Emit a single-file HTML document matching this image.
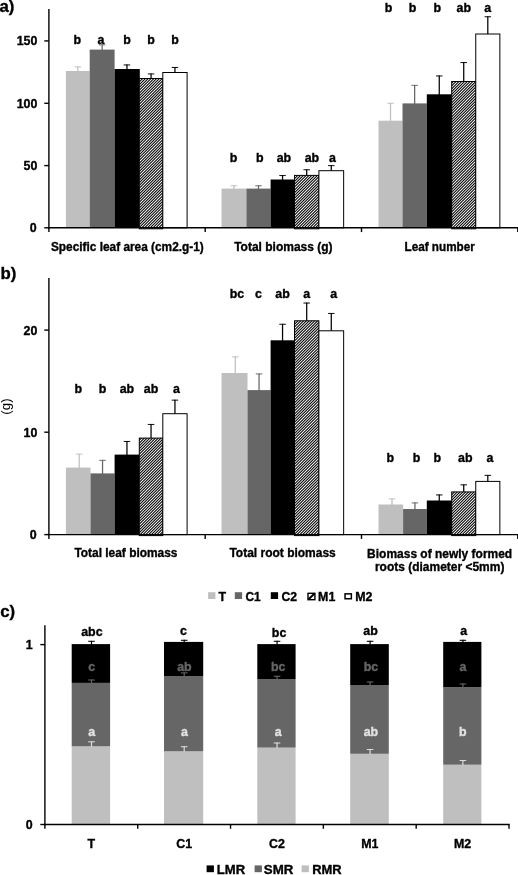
<!DOCTYPE html>
<html><head><meta charset="utf-8"><title>chart</title>
<style>
html,body{margin:0;padding:0;background:#fff;}
body{width:518px;height:875px;overflow:hidden;}
svg{display:block;will-change:transform;transform:translateZ(0);font-family:"Liberation Sans",sans-serif;font-weight:bold;}
</style></head><body>
<svg width="518" height="875" viewBox="0 0 518 875">
<rect width="518" height="875" fill="#fff"/>

<line x1="77.80" y1="72.00" x2="77.80" y2="66.50" stroke="#bfbfbf" stroke-width="1.25"/>
<line x1="74.55" y1="66.95" x2="81.05" y2="66.95" stroke="#bfbfbf" stroke-width="0.95"/>
<rect x="65.90" y="71.00" width="23.80" height="156.80" fill="#bfbfbf"/>
<text x="77.30" y="44.00" font-size="12.4" text-anchor="middle" fill="#000000"  stroke="#000000" stroke-width="0.35" stroke-linejoin="round">b</text>
<line x1="102.15" y1="50.60" x2="102.15" y2="44.40" stroke="#666666" stroke-width="1.25"/>
<line x1="98.90" y1="44.85" x2="105.40" y2="44.85" stroke="#666666" stroke-width="0.95"/>
<rect x="89.70" y="49.60" width="24.90" height="178.20" fill="#666666"/>
<text x="100.85" y="44.00" font-size="12.4" text-anchor="middle" fill="#000000"  stroke="#000000" stroke-width="0.35" stroke-linejoin="round">a</text>
<line x1="126.95" y1="70.00" x2="126.95" y2="64.50" stroke="#000000" stroke-width="1.25"/>
<line x1="123.70" y1="64.95" x2="130.20" y2="64.95" stroke="#000000" stroke-width="0.95"/>
<rect x="114.60" y="69.00" width="25.20" height="158.80" fill="#000000"/>
<text x="126.95" y="44.00" font-size="12.4" text-anchor="middle" fill="#000000"  stroke="#000000" stroke-width="0.35" stroke-linejoin="round">b</text>
<line x1="151.05" y1="79.00" x2="151.05" y2="73.50" stroke="#000000" stroke-width="1.25"/>
<line x1="147.80" y1="73.95" x2="154.30" y2="73.95" stroke="#000000" stroke-width="0.95"/>
<clipPath id="c1"><rect x="139.30" y="78.50" width="23.50" height="150.30"/></clipPath>
<rect x="139.30" y="78.50" width="23.50" height="150.30" fill="#fff"/>
<path d="M-15.20 230.80L139.10 76.50M-12.40 230.80L141.90 76.50M-9.60 230.80L144.70 76.50M-6.80 230.80L147.50 76.50M-4.00 230.80L150.30 76.50M-1.20 230.80L153.10 76.50M1.60 230.80L155.90 76.50M4.40 230.80L158.70 76.50M7.20 230.80L161.50 76.50M10.00 230.80L164.30 76.50M12.80 230.80L167.10 76.50M15.60 230.80L169.90 76.50M18.40 230.80L172.70 76.50M21.20 230.80L175.50 76.50M24.00 230.80L178.30 76.50M26.80 230.80L181.10 76.50M29.60 230.80L183.90 76.50M32.40 230.80L186.70 76.50M35.20 230.80L189.50 76.50M38.00 230.80L192.30 76.50M40.80 230.80L195.10 76.50M43.60 230.80L197.90 76.50M46.40 230.80L200.70 76.50M49.20 230.80L203.50 76.50M52.00 230.80L206.30 76.50M54.80 230.80L209.10 76.50M57.60 230.80L211.90 76.50M60.40 230.80L214.70 76.50M63.20 230.80L217.50 76.50M66.00 230.80L220.30 76.50M68.80 230.80L223.10 76.50M71.60 230.80L225.90 76.50M74.40 230.80L228.70 76.50M77.20 230.80L231.50 76.50M80.00 230.80L234.30 76.50M82.80 230.80L237.10 76.50M85.60 230.80L239.90 76.50M88.40 230.80L242.70 76.50M91.20 230.80L245.50 76.50M94.00 230.80L248.30 76.50M96.80 230.80L251.10 76.50M99.60 230.80L253.90 76.50M102.40 230.80L256.70 76.50M105.20 230.80L259.50 76.50M108.00 230.80L262.30 76.50M110.80 230.80L265.10 76.50M113.60 230.80L267.90 76.50M116.40 230.80L270.70 76.50M119.20 230.80L273.50 76.50M122.00 230.80L276.30 76.50M124.80 230.80L279.10 76.50M127.60 230.80L281.90 76.50M130.40 230.80L284.70 76.50M133.20 230.80L287.50 76.50M136.00 230.80L290.30 76.50M138.80 230.80L293.10 76.50M141.60 230.80L295.90 76.50M144.40 230.80L298.70 76.50M147.20 230.80L301.50 76.50M150.00 230.80L304.30 76.50M152.80 230.80L307.10 76.50M155.60 230.80L309.90 76.50M158.40 230.80L312.70 76.50M161.20 230.80L315.50 76.50" stroke="#000" stroke-width="1.05" fill="none" clip-path="url(#c1)"/>
<rect x="139.30" y="78.50" width="23.50" height="150.30" fill="none" stroke="#000" stroke-width="1.0"/>
<text x="151.05" y="44.00" font-size="12.4" text-anchor="middle" fill="#000000"  stroke="#000000" stroke-width="0.35" stroke-linejoin="round">b</text>
<line x1="174.95" y1="73.00" x2="174.95" y2="67.00" stroke="#000000" stroke-width="1.25"/>
<line x1="171.70" y1="67.45" x2="178.20" y2="67.45" stroke="#000000" stroke-width="0.95"/>
<rect x="162.80" y="72.50" width="24.30" height="155.30" fill="#fff" stroke="#000" stroke-width="1.0"/>
<text x="174.95" y="44.00" font-size="12.4" text-anchor="middle" fill="#000000"  stroke="#000000" stroke-width="0.35" stroke-linejoin="round">b</text>
<text transform="translate(127.35,251.10) scale(0.956,1)" font-size="12.4" text-anchor="middle" fill="#000000"  stroke="#000000" stroke-width="0.35" stroke-linejoin="round">Specific leaf area (cm2.g-1)</text>
<line x1="233.95" y1="189.60" x2="233.95" y2="185.30" stroke="#bfbfbf" stroke-width="1.25"/>
<line x1="230.70" y1="185.75" x2="237.20" y2="185.75" stroke="#bfbfbf" stroke-width="0.95"/>
<rect x="221.50" y="188.60" width="24.90" height="39.20" fill="#bfbfbf"/>
<text x="233.45" y="161.50" font-size="12.4" text-anchor="middle" fill="#000000"  stroke="#000000" stroke-width="0.35" stroke-linejoin="round">b</text>
<line x1="258.50" y1="189.60" x2="258.50" y2="185.30" stroke="#666666" stroke-width="1.25"/>
<line x1="255.25" y1="185.75" x2="261.75" y2="185.75" stroke="#666666" stroke-width="0.95"/>
<rect x="246.40" y="188.60" width="24.20" height="39.20" fill="#666666"/>
<text x="259.80" y="161.50" font-size="12.4" text-anchor="middle" fill="#000000"  stroke="#000000" stroke-width="0.35" stroke-linejoin="round">b</text>
<line x1="282.55" y1="180.50" x2="282.55" y2="175.10" stroke="#000000" stroke-width="1.25"/>
<line x1="279.30" y1="175.55" x2="285.80" y2="175.55" stroke="#000000" stroke-width="0.95"/>
<rect x="270.60" y="179.50" width="24.40" height="48.30" fill="#000000"/>
<text x="283.95" y="161.50" font-size="12.4" text-anchor="middle" fill="#000000"  stroke="#000000" stroke-width="0.35" stroke-linejoin="round">ab</text>
<line x1="306.70" y1="175.90" x2="306.70" y2="169.30" stroke="#000000" stroke-width="1.25"/>
<line x1="303.45" y1="169.75" x2="309.95" y2="169.75" stroke="#000000" stroke-width="0.95"/>
<clipPath id="c2"><rect x="294.50" y="175.40" width="24.40" height="53.40"/></clipPath>
<rect x="294.50" y="175.40" width="24.40" height="53.40" fill="#fff"/>
<path d="M236.80 230.80L294.20 173.40M239.60 230.80L297.00 173.40M242.40 230.80L299.80 173.40M245.20 230.80L302.60 173.40M248.00 230.80L305.40 173.40M250.80 230.80L308.20 173.40M253.60 230.80L311.00 173.40M256.40 230.80L313.80 173.40M259.20 230.80L316.60 173.40M262.00 230.80L319.40 173.40M264.80 230.80L322.20 173.40M267.60 230.80L325.00 173.40M270.40 230.80L327.80 173.40M273.20 230.80L330.60 173.40M276.00 230.80L333.40 173.40M278.80 230.80L336.20 173.40M281.60 230.80L339.00 173.40M284.40 230.80L341.80 173.40M287.20 230.80L344.60 173.40M290.00 230.80L347.40 173.40M292.80 230.80L350.20 173.40M295.60 230.80L353.00 173.40M298.40 230.80L355.80 173.40M301.20 230.80L358.60 173.40M304.00 230.80L361.40 173.40M306.80 230.80L364.20 173.40M309.60 230.80L367.00 173.40M312.40 230.80L369.80 173.40M315.20 230.80L372.60 173.40M318.00 230.80L375.40 173.40" stroke="#000" stroke-width="1.05" fill="none" clip-path="url(#c2)"/>
<rect x="294.50" y="175.40" width="24.40" height="53.40" fill="none" stroke="#000" stroke-width="1.0"/>
<text x="311.90" y="161.50" font-size="12.4" text-anchor="middle" fill="#000000"  stroke="#000000" stroke-width="0.35" stroke-linejoin="round">ab</text>
<line x1="331.27" y1="171.20" x2="331.27" y2="165.20" stroke="#000000" stroke-width="1.25"/>
<line x1="328.02" y1="165.65" x2="334.52" y2="165.65" stroke="#000000" stroke-width="0.95"/>
<rect x="318.90" y="170.70" width="24.75" height="57.10" fill="#fff" stroke="#000" stroke-width="1.0"/>
<text x="332.57" y="161.50" font-size="12.4" text-anchor="middle" fill="#000000"  stroke="#000000" stroke-width="0.35" stroke-linejoin="round">a</text>
<text transform="translate(283.35,251.10) scale(0.968,1)" font-size="12.4" text-anchor="middle" fill="#000000"  stroke="#000000" stroke-width="0.35" stroke-linejoin="round">Total biomass (g)</text>
<line x1="390.50" y1="121.70" x2="390.50" y2="102.80" stroke="#bfbfbf" stroke-width="1.25"/>
<line x1="387.25" y1="103.25" x2="393.75" y2="103.25" stroke="#bfbfbf" stroke-width="0.95"/>
<rect x="378.50" y="120.70" width="24.00" height="107.10" fill="#bfbfbf"/>
<text x="388.50" y="12.20" font-size="12.4" text-anchor="middle" fill="#000000"  stroke="#000000" stroke-width="0.35" stroke-linejoin="round">b</text>
<line x1="414.65" y1="104.40" x2="414.65" y2="84.90" stroke="#666666" stroke-width="1.25"/>
<line x1="411.40" y1="85.35" x2="417.90" y2="85.35" stroke="#666666" stroke-width="0.95"/>
<rect x="402.50" y="103.40" width="24.30" height="124.40" fill="#666666"/>
<text x="412.65" y="12.20" font-size="12.4" text-anchor="middle" fill="#000000"  stroke="#000000" stroke-width="0.35" stroke-linejoin="round">b</text>
<line x1="439.25" y1="95.30" x2="439.25" y2="75.50" stroke="#000000" stroke-width="1.25"/>
<line x1="436.00" y1="75.95" x2="442.50" y2="75.95" stroke="#000000" stroke-width="0.95"/>
<rect x="426.80" y="94.30" width="25.40" height="133.50" fill="#000000"/>
<text x="437.25" y="12.20" font-size="12.4" text-anchor="middle" fill="#000000"  stroke="#000000" stroke-width="0.35" stroke-linejoin="round">b</text>
<line x1="463.73" y1="82.00" x2="463.73" y2="62.10" stroke="#000000" stroke-width="1.25"/>
<line x1="460.48" y1="62.55" x2="466.98" y2="62.55" stroke="#000000" stroke-width="0.95"/>
<clipPath id="c3"><rect x="451.70" y="81.50" width="24.05" height="147.30"/></clipPath>
<rect x="451.70" y="81.50" width="24.05" height="147.30" fill="#fff"/>
<path d="M301.20 230.80L452.50 79.50M304.00 230.80L455.30 79.50M306.80 230.80L458.10 79.50M309.60 230.80L460.90 79.50M312.40 230.80L463.70 79.50M315.20 230.80L466.50 79.50M318.00 230.80L469.30 79.50M320.80 230.80L472.10 79.50M323.60 230.80L474.90 79.50M326.40 230.80L477.70 79.50M329.20 230.80L480.50 79.50M332.00 230.80L483.30 79.50M334.80 230.80L486.10 79.50M337.60 230.80L488.90 79.50M340.40 230.80L491.70 79.50M343.20 230.80L494.50 79.50M346.00 230.80L497.30 79.50M348.80 230.80L500.10 79.50M351.60 230.80L502.90 79.50M354.40 230.80L505.70 79.50M357.20 230.80L508.50 79.50M360.00 230.80L511.30 79.50M362.80 230.80L514.10 79.50M365.60 230.80L516.90 79.50M368.40 230.80L519.70 79.50M371.20 230.80L522.50 79.50M374.00 230.80L525.30 79.50M376.80 230.80L528.10 79.50M379.60 230.80L530.90 79.50M382.40 230.80L533.70 79.50M385.20 230.80L536.50 79.50M388.00 230.80L539.30 79.50M390.80 230.80L542.10 79.50M393.60 230.80L544.90 79.50M396.40 230.80L547.70 79.50M399.20 230.80L550.50 79.50M402.00 230.80L553.30 79.50M404.80 230.80L556.10 79.50M407.60 230.80L558.90 79.50M410.40 230.80L561.70 79.50M413.20 230.80L564.50 79.50M416.00 230.80L567.30 79.50M418.80 230.80L570.10 79.50M421.60 230.80L572.90 79.50M424.40 230.80L575.70 79.50M427.20 230.80L578.50 79.50M430.00 230.80L581.30 79.50M432.80 230.80L584.10 79.50M435.60 230.80L586.90 79.50M438.40 230.80L589.70 79.50M441.20 230.80L592.50 79.50M444.00 230.80L595.30 79.50M446.80 230.80L598.10 79.50M449.60 230.80L600.90 79.50M452.40 230.80L603.70 79.50M455.20 230.80L606.50 79.50M458.00 230.80L609.30 79.50M460.80 230.80L612.10 79.50M463.60 230.80L614.90 79.50M466.40 230.80L617.70 79.50M469.20 230.80L620.50 79.50M472.00 230.80L623.30 79.50M474.80 230.80L626.10 79.50" stroke="#000" stroke-width="1.05" fill="none" clip-path="url(#c3)"/>
<rect x="451.70" y="81.50" width="24.05" height="147.30" fill="none" stroke="#000" stroke-width="1.0"/>
<text x="463.73" y="12.20" font-size="12.4" text-anchor="middle" fill="#000000"  stroke="#000000" stroke-width="0.35" stroke-linejoin="round">ab</text>
<line x1="487.80" y1="34.50" x2="487.80" y2="16.30" stroke="#000000" stroke-width="1.25"/>
<line x1="484.55" y1="16.75" x2="491.05" y2="16.75" stroke="#000000" stroke-width="0.95"/>
<rect x="475.75" y="34.00" width="24.10" height="193.80" fill="#fff" stroke="#000" stroke-width="1.0"/>
<text x="487.80" y="12.20" font-size="12.4" text-anchor="middle" fill="#000000"  stroke="#000000" stroke-width="0.35" stroke-linejoin="round">a</text>
<text transform="translate(439.65,251.10) scale(0.945,1)" font-size="12.4" text-anchor="middle" fill="#000000"  stroke="#000000" stroke-width="0.35" stroke-linejoin="round">Leaf number</text>
<line x1="48.90" y1="9.00" x2="48.90" y2="228.50" stroke="#000000" stroke-width="1.4"/>
<line x1="48.20" y1="227.80" x2="518.00" y2="227.80" stroke="#000000" stroke-width="1.4"/>
<line x1="48.90" y1="227.80" x2="48.90" y2="232.10" stroke="#000000" stroke-width="1.4"/>
<line x1="205.20" y1="227.80" x2="205.20" y2="232.10" stroke="#000000" stroke-width="1.4"/>
<line x1="361.50" y1="227.80" x2="361.50" y2="232.10" stroke="#000000" stroke-width="1.4"/>
<line x1="517.80" y1="227.80" x2="517.80" y2="232.10" stroke="#000000" stroke-width="1.4"/>
<line x1="44.30" y1="227.80" x2="48.90" y2="227.80" stroke="#000000" stroke-width="1.4"/>
<text x="36.60" y="232.30" font-size="12.4" text-anchor="end" fill="#000000"  stroke="#000000" stroke-width="0.35" stroke-linejoin="round">0</text>
<line x1="44.30" y1="165.60" x2="48.90" y2="165.60" stroke="#000000" stroke-width="1.4"/>
<text x="37.40" y="170.10" font-size="12.4" text-anchor="end" fill="#000000"  stroke="#000000" stroke-width="0.35" stroke-linejoin="round">50</text>
<line x1="44.30" y1="103.30" x2="48.90" y2="103.30" stroke="#000000" stroke-width="1.4"/>
<text x="37.40" y="107.80" font-size="12.4" text-anchor="end" fill="#000000"  stroke="#000000" stroke-width="0.35" stroke-linejoin="round">100</text>
<line x1="44.30" y1="40.90" x2="48.90" y2="40.90" stroke="#000000" stroke-width="1.4"/>
<text x="37.40" y="45.40" font-size="12.4" text-anchor="end" fill="#000000"  stroke="#000000" stroke-width="0.35" stroke-linejoin="round">150</text>
<line x1="79.20" y1="468.60" x2="79.20" y2="453.70" stroke="#bfbfbf" stroke-width="1.25"/>
<line x1="75.95" y1="454.15" x2="82.45" y2="454.15" stroke="#bfbfbf" stroke-width="0.95"/>
<rect x="65.90" y="467.60" width="24.60" height="67.00" fill="#bfbfbf"/>
<text x="78.20" y="393.20" font-size="12.4" text-anchor="middle" fill="#000000"  stroke="#000000" stroke-width="0.35" stroke-linejoin="round">b</text>
<line x1="102.55" y1="474.40" x2="102.55" y2="459.90" stroke="#666666" stroke-width="1.25"/>
<line x1="99.30" y1="460.35" x2="105.80" y2="460.35" stroke="#666666" stroke-width="0.95"/>
<rect x="90.50" y="473.40" width="24.10" height="61.20" fill="#666666"/>
<text x="102.55" y="393.20" font-size="12.4" text-anchor="middle" fill="#000000"  stroke="#000000" stroke-width="0.35" stroke-linejoin="round">b</text>
<line x1="126.95" y1="455.60" x2="126.95" y2="441.00" stroke="#000000" stroke-width="1.25"/>
<line x1="123.70" y1="441.45" x2="130.20" y2="441.45" stroke="#000000" stroke-width="0.95"/>
<rect x="114.60" y="454.60" width="25.20" height="80.00" fill="#000000"/>
<text x="126.95" y="393.20" font-size="12.4" text-anchor="middle" fill="#000000"  stroke="#000000" stroke-width="0.35" stroke-linejoin="round">ab</text>
<line x1="151.05" y1="438.60" x2="151.05" y2="424.00" stroke="#000000" stroke-width="1.25"/>
<line x1="147.80" y1="424.45" x2="154.30" y2="424.45" stroke="#000000" stroke-width="0.95"/>
<clipPath id="c4"><rect x="139.30" y="438.10" width="23.50" height="97.50"/></clipPath>
<rect x="139.30" y="438.10" width="23.50" height="97.50" fill="#fff"/>
<path d="M39.20 537.60L140.70 436.10M42.00 537.60L143.50 436.10M44.80 537.60L146.30 436.10M47.60 537.60L149.10 436.10M50.40 537.60L151.90 436.10M53.20 537.60L154.70 436.10M56.00 537.60L157.50 436.10M58.80 537.60L160.30 436.10M61.60 537.60L163.10 436.10M64.40 537.60L165.90 436.10M67.20 537.60L168.70 436.10M70.00 537.60L171.50 436.10M72.80 537.60L174.30 436.10M75.60 537.60L177.10 436.10M78.40 537.60L179.90 436.10M81.20 537.60L182.70 436.10M84.00 537.60L185.50 436.10M86.80 537.60L188.30 436.10M89.60 537.60L191.10 436.10M92.40 537.60L193.90 436.10M95.20 537.60L196.70 436.10M98.00 537.60L199.50 436.10M100.80 537.60L202.30 436.10M103.60 537.60L205.10 436.10M106.40 537.60L207.90 436.10M109.20 537.60L210.70 436.10M112.00 537.60L213.50 436.10M114.80 537.60L216.30 436.10M117.60 537.60L219.10 436.10M120.40 537.60L221.90 436.10M123.20 537.60L224.70 436.10M126.00 537.60L227.50 436.10M128.80 537.60L230.30 436.10M131.60 537.60L233.10 436.10M134.40 537.60L235.90 436.10M137.20 537.60L238.70 436.10M140.00 537.60L241.50 436.10M142.80 537.60L244.30 436.10M145.60 537.60L247.10 436.10M148.40 537.60L249.90 436.10M151.20 537.60L252.70 436.10M154.00 537.60L255.50 436.10M156.80 537.60L258.30 436.10M159.60 537.60L261.10 436.10M162.40 537.60L263.90 436.10" stroke="#000" stroke-width="1.05" fill="none" clip-path="url(#c4)"/>
<rect x="139.30" y="438.10" width="23.50" height="97.50" fill="none" stroke="#000" stroke-width="1.0"/>
<text x="151.05" y="393.20" font-size="12.4" text-anchor="middle" fill="#000000"  stroke="#000000" stroke-width="0.35" stroke-linejoin="round">ab</text>
<line x1="174.95" y1="414.20" x2="174.95" y2="399.70" stroke="#000000" stroke-width="1.25"/>
<line x1="171.70" y1="400.15" x2="178.20" y2="400.15" stroke="#000000" stroke-width="0.95"/>
<rect x="162.80" y="413.70" width="24.30" height="120.90" fill="#fff" stroke="#000" stroke-width="1.0"/>
<text x="176.35" y="393.20" font-size="12.4" text-anchor="middle" fill="#000000"  stroke="#000000" stroke-width="0.35" stroke-linejoin="round">a</text>
<text transform="translate(125.95,557.00) scale(0.962,1)" font-size="12.4" text-anchor="middle" fill="#000000"  stroke="#000000" stroke-width="0.35" stroke-linejoin="round">Total leaf biomass</text>
<line x1="235.30" y1="374.00" x2="235.30" y2="356.40" stroke="#bfbfbf" stroke-width="1.25"/>
<line x1="232.05" y1="356.85" x2="238.55" y2="356.85" stroke="#bfbfbf" stroke-width="0.95"/>
<rect x="221.50" y="373.00" width="26.00" height="161.60" fill="#bfbfbf"/>
<text x="237.00" y="297.70" font-size="12.4" text-anchor="middle" fill="#000000"  stroke="#000000" stroke-width="0.35" stroke-linejoin="round">bc</text>
<line x1="259.05" y1="391.10" x2="259.05" y2="373.50" stroke="#666666" stroke-width="1.25"/>
<line x1="255.80" y1="373.95" x2="262.30" y2="373.95" stroke="#666666" stroke-width="0.95"/>
<rect x="247.50" y="390.10" width="23.10" height="144.50" fill="#666666"/>
<text x="258.55" y="297.70" font-size="12.4" text-anchor="middle" fill="#000000"  stroke="#000000" stroke-width="0.35" stroke-linejoin="round">c</text>
<line x1="282.55" y1="341.30" x2="282.55" y2="323.80" stroke="#000000" stroke-width="1.25"/>
<line x1="279.30" y1="324.25" x2="285.80" y2="324.25" stroke="#000000" stroke-width="0.95"/>
<rect x="270.60" y="340.30" width="24.40" height="194.30" fill="#000000"/>
<text x="282.55" y="297.70" font-size="12.4" text-anchor="middle" fill="#000000"  stroke="#000000" stroke-width="0.35" stroke-linejoin="round">ab</text>
<line x1="306.70" y1="321.30" x2="306.70" y2="302.60" stroke="#000000" stroke-width="1.25"/>
<line x1="303.45" y1="303.05" x2="309.95" y2="303.05" stroke="#000000" stroke-width="0.95"/>
<clipPath id="c5"><rect x="294.50" y="320.80" width="24.40" height="214.80"/></clipPath>
<rect x="294.50" y="320.80" width="24.40" height="214.80" fill="#fff"/>
<path d="M75.60 537.60L294.40 318.80M78.40 537.60L297.20 318.80M81.20 537.60L300.00 318.80M84.00 537.60L302.80 318.80M86.80 537.60L305.60 318.80M89.60 537.60L308.40 318.80M92.40 537.60L311.20 318.80M95.20 537.60L314.00 318.80M98.00 537.60L316.80 318.80M100.80 537.60L319.60 318.80M103.60 537.60L322.40 318.80M106.40 537.60L325.20 318.80M109.20 537.60L328.00 318.80M112.00 537.60L330.80 318.80M114.80 537.60L333.60 318.80M117.60 537.60L336.40 318.80M120.40 537.60L339.20 318.80M123.20 537.60L342.00 318.80M126.00 537.60L344.80 318.80M128.80 537.60L347.60 318.80M131.60 537.60L350.40 318.80M134.40 537.60L353.20 318.80M137.20 537.60L356.00 318.80M140.00 537.60L358.80 318.80M142.80 537.60L361.60 318.80M145.60 537.60L364.40 318.80M148.40 537.60L367.20 318.80M151.20 537.60L370.00 318.80M154.00 537.60L372.80 318.80M156.80 537.60L375.60 318.80M159.60 537.60L378.40 318.80M162.40 537.60L381.20 318.80M165.20 537.60L384.00 318.80M168.00 537.60L386.80 318.80M170.80 537.60L389.60 318.80M173.60 537.60L392.40 318.80M176.40 537.60L395.20 318.80M179.20 537.60L398.00 318.80M182.00 537.60L400.80 318.80M184.80 537.60L403.60 318.80M187.60 537.60L406.40 318.80M190.40 537.60L409.20 318.80M193.20 537.60L412.00 318.80M196.00 537.60L414.80 318.80M198.80 537.60L417.60 318.80M201.60 537.60L420.40 318.80M204.40 537.60L423.20 318.80M207.20 537.60L426.00 318.80M210.00 537.60L428.80 318.80M212.80 537.60L431.60 318.80M215.60 537.60L434.40 318.80M218.40 537.60L437.20 318.80M221.20 537.60L440.00 318.80M224.00 537.60L442.80 318.80M226.80 537.60L445.60 318.80M229.60 537.60L448.40 318.80M232.40 537.60L451.20 318.80M235.20 537.60L454.00 318.80M238.00 537.60L456.80 318.80M240.80 537.60L459.60 318.80M243.60 537.60L462.40 318.80M246.40 537.60L465.20 318.80M249.20 537.60L468.00 318.80M252.00 537.60L470.80 318.80M254.80 537.60L473.60 318.80M257.60 537.60L476.40 318.80M260.40 537.60L479.20 318.80M263.20 537.60L482.00 318.80M266.00 537.60L484.80 318.80M268.80 537.60L487.60 318.80M271.60 537.60L490.40 318.80M274.40 537.60L493.20 318.80M277.20 537.60L496.00 318.80M280.00 537.60L498.80 318.80M282.80 537.60L501.60 318.80M285.60 537.60L504.40 318.80M288.40 537.60L507.20 318.80M291.20 537.60L510.00 318.80M294.00 537.60L512.80 318.80M296.80 537.60L515.60 318.80M299.60 537.60L518.40 318.80M302.40 537.60L521.20 318.80M305.20 537.60L524.00 318.80M308.00 537.60L526.80 318.80M310.80 537.60L529.60 318.80M313.60 537.60L532.40 318.80M316.40 537.60L535.20 318.80M319.20 537.60L538.00 318.80" stroke="#000" stroke-width="1.05" fill="none" clip-path="url(#c5)"/>
<rect x="294.50" y="320.80" width="24.40" height="214.80" fill="none" stroke="#000" stroke-width="1.0"/>
<text x="306.70" y="297.70" font-size="12.4" text-anchor="middle" fill="#000000"  stroke="#000000" stroke-width="0.35" stroke-linejoin="round">a</text>
<line x1="331.27" y1="331.30" x2="331.27" y2="313.00" stroke="#000000" stroke-width="1.25"/>
<line x1="328.02" y1="313.45" x2="334.52" y2="313.45" stroke="#000000" stroke-width="0.95"/>
<rect x="318.90" y="330.80" width="24.75" height="203.80" fill="#fff" stroke="#000" stroke-width="1.0"/>
<text x="333.77" y="297.70" font-size="12.4" text-anchor="middle" fill="#000000"  stroke="#000000" stroke-width="0.35" stroke-linejoin="round">a</text>
<text transform="translate(282.60,557.00) scale(0.968,1)" font-size="12.4" text-anchor="middle" fill="#000000"  stroke="#000000" stroke-width="0.35" stroke-linejoin="round">Total root biomass</text>
<line x1="392.00" y1="505.50" x2="392.00" y2="498.50" stroke="#bfbfbf" stroke-width="1.25"/>
<line x1="388.75" y1="498.95" x2="395.25" y2="498.95" stroke="#bfbfbf" stroke-width="0.95"/>
<rect x="378.50" y="504.50" width="24.60" height="30.10" fill="#bfbfbf"/>
<text x="390.30" y="462.20" font-size="12.4" text-anchor="middle" fill="#000000"  stroke="#000000" stroke-width="0.35" stroke-linejoin="round">b</text>
<line x1="414.95" y1="510.00" x2="414.95" y2="502.50" stroke="#666666" stroke-width="1.25"/>
<line x1="411.70" y1="502.95" x2="418.20" y2="502.95" stroke="#666666" stroke-width="0.95"/>
<rect x="403.10" y="509.00" width="23.70" height="25.60" fill="#666666"/>
<text x="416.55" y="462.20" font-size="12.4" text-anchor="middle" fill="#000000"  stroke="#000000" stroke-width="0.35" stroke-linejoin="round">b</text>
<line x1="439.25" y1="501.50" x2="439.25" y2="494.50" stroke="#000000" stroke-width="1.25"/>
<line x1="436.00" y1="494.95" x2="442.50" y2="494.95" stroke="#000000" stroke-width="0.95"/>
<rect x="426.80" y="500.50" width="25.40" height="34.10" fill="#000000"/>
<text x="437.25" y="462.20" font-size="12.4" text-anchor="middle" fill="#000000"  stroke="#000000" stroke-width="0.35" stroke-linejoin="round">b</text>
<line x1="463.73" y1="492.40" x2="463.73" y2="484.40" stroke="#000000" stroke-width="1.25"/>
<line x1="460.48" y1="484.85" x2="466.98" y2="484.85" stroke="#000000" stroke-width="0.95"/>
<clipPath id="c6"><rect x="451.70" y="491.90" width="24.05" height="43.70"/></clipPath>
<rect x="451.70" y="491.90" width="24.05" height="43.70" fill="#fff"/>
<path d="M406.00 537.60L453.70 489.90M408.80 537.60L456.50 489.90M411.60 537.60L459.30 489.90M414.40 537.60L462.10 489.90M417.20 537.60L464.90 489.90M420.00 537.60L467.70 489.90M422.80 537.60L470.50 489.90M425.60 537.60L473.30 489.90M428.40 537.60L476.10 489.90M431.20 537.60L478.90 489.90M434.00 537.60L481.70 489.90M436.80 537.60L484.50 489.90M439.60 537.60L487.30 489.90M442.40 537.60L490.10 489.90M445.20 537.60L492.90 489.90M448.00 537.60L495.70 489.90M450.80 537.60L498.50 489.90M453.60 537.60L501.30 489.90M456.40 537.60L504.10 489.90M459.20 537.60L506.90 489.90M462.00 537.60L509.70 489.90M464.80 537.60L512.50 489.90M467.60 537.60L515.30 489.90M470.40 537.60L518.10 489.90M473.20 537.60L520.90 489.90M476.00 537.60L523.70 489.90" stroke="#000" stroke-width="1.05" fill="none" clip-path="url(#c6)"/>
<rect x="451.70" y="491.90" width="24.05" height="43.70" fill="none" stroke="#000" stroke-width="1.0"/>
<text x="465.33" y="462.20" font-size="12.4" text-anchor="middle" fill="#000000"  stroke="#000000" stroke-width="0.35" stroke-linejoin="round">ab</text>
<line x1="487.80" y1="481.90" x2="487.80" y2="474.90" stroke="#000000" stroke-width="1.25"/>
<line x1="484.55" y1="475.35" x2="491.05" y2="475.35" stroke="#000000" stroke-width="0.95"/>
<rect x="475.75" y="481.40" width="24.10" height="53.20" fill="#fff" stroke="#000" stroke-width="1.0"/>
<text x="490.00" y="462.20" font-size="12.4" text-anchor="middle" fill="#000000"  stroke="#000000" stroke-width="0.35" stroke-linejoin="round">a</text>
<text transform="translate(439.65,557.50) scale(0.966,1)" font-size="12.4" text-anchor="middle" fill="#000000"  stroke="#000000" stroke-width="0.35" stroke-linejoin="round">Biomass of newly formed</text>
<text transform="translate(439.65,570.80) scale(0.966,1)" font-size="12.4" text-anchor="middle" fill="#000000"  stroke="#000000" stroke-width="0.35" stroke-linejoin="round">roots (diameter &lt;5mm)</text>
<line x1="48.90" y1="277.90" x2="48.90" y2="535.30" stroke="#000000" stroke-width="1.4"/>
<line x1="48.20" y1="534.60" x2="518.00" y2="534.60" stroke="#000000" stroke-width="1.4"/>
<line x1="48.90" y1="534.60" x2="48.90" y2="538.90" stroke="#000000" stroke-width="1.4"/>
<line x1="205.20" y1="534.60" x2="205.20" y2="538.90" stroke="#000000" stroke-width="1.4"/>
<line x1="361.50" y1="534.60" x2="361.50" y2="538.90" stroke="#000000" stroke-width="1.4"/>
<line x1="517.80" y1="534.60" x2="517.80" y2="538.90" stroke="#000000" stroke-width="1.4"/>
<line x1="44.30" y1="534.60" x2="48.90" y2="534.60" stroke="#000000" stroke-width="1.4"/>
<text x="36.60" y="539.10" font-size="12.4" text-anchor="end" fill="#000000"  stroke="#000000" stroke-width="0.35" stroke-linejoin="round">0</text>
<line x1="44.30" y1="432.20" x2="48.90" y2="432.20" stroke="#000000" stroke-width="1.4"/>
<text x="37.40" y="436.70" font-size="12.4" text-anchor="end" fill="#000000"  stroke="#000000" stroke-width="0.35" stroke-linejoin="round">10</text>
<line x1="44.30" y1="330.10" x2="48.90" y2="330.10" stroke="#000000" stroke-width="1.4"/>
<text x="37.40" y="334.60" font-size="12.4" text-anchor="end" fill="#000000"  stroke="#000000" stroke-width="0.35" stroke-linejoin="round">20</text>
<text x="-0.50" y="11.60" font-size="16.8" text-anchor="start" fill="#000000"  stroke="#000000" stroke-width="0.35" stroke-linejoin="round">a)</text>
<text x="0.40" y="278.70" font-size="16.8" text-anchor="start" fill="#000000"  stroke="#000000" stroke-width="0.35" stroke-linejoin="round">b)</text>
<text x="0.20" y="616.70" font-size="16.8" text-anchor="start" fill="#000000"  stroke="#000000" stroke-width="0.35" stroke-linejoin="round">c)</text>
<text transform="translate(10.4,406.5) rotate(-90)" font-size="13.3" text-anchor="middle" font-weight="normal">(g)</text>
<rect x="208.1" y="592.2" width="7.3" height="6.8" fill="#bfbfbf"/>
<text x="218.50" y="600.60" font-size="12.4" text-anchor="start" fill="#000000"  stroke="#000000" stroke-width="0.35" stroke-linejoin="round">T</text>
<rect x="234.8" y="592.2" width="7.3" height="6.8" fill="#666666"/>
<text transform="translate(245.50,600.60) scale(0.96,1)" font-size="12.4" text-anchor="start" fill="#000000"  stroke="#000000" stroke-width="0.35" stroke-linejoin="round">C1</text>
<rect x="270.8" y="592.2" width="7.3" height="6.8" fill="#000000"/>
<text transform="translate(281.50,600.60) scale(0.98,1)" font-size="12.4" text-anchor="start" fill="#000000"  stroke="#000000" stroke-width="0.35" stroke-linejoin="round">C2</text>
<rect x="308.00" y="593.30" width="6.90" height="6.40" fill="#fff" stroke="#000" stroke-width="1.4"/>
<line x1="308.30" y1="599.40" x2="314.60" y2="593.60" stroke="#000" stroke-width="2.0"/>
<text x="318.10" y="600.60" font-size="12.4" text-anchor="start" fill="#000000"  stroke="#000000" stroke-width="0.35" stroke-linejoin="round">M1</text>
<rect x="345.05" y="593.85" width="6.30" height="4.90" fill="#fff" stroke="#000" stroke-width="1.5"/>
<text x="355.20" y="600.60" font-size="12.4" text-anchor="start" fill="#000000"  stroke="#000000" stroke-width="0.35" stroke-linejoin="round">M2</text>
<rect x="71.70" y="746.30" width="38.40" height="78.20" fill="#bfbfbf"/>
<rect x="71.70" y="682.90" width="38.40" height="63.40" fill="#666666"/>
<rect x="71.70" y="644.10" width="38.40" height="38.80" fill="#000000"/>
<line x1="91.50" y1="644.60" x2="91.50" y2="640.85" stroke="#000000" stroke-width="1.2"/>
<line x1="88.20" y1="641.30" x2="94.80" y2="641.30" stroke="#000000" stroke-width="1.05"/>
<line x1="91.50" y1="683.40" x2="91.50" y2="679.55" stroke="#666666" stroke-width="1.2"/>
<line x1="88.20" y1="680.00" x2="94.80" y2="680.00" stroke="#666666" stroke-width="1.05"/>
<line x1="91.50" y1="746.80" x2="91.50" y2="741.35" stroke="#dcdcdc" stroke-width="1.2"/>
<line x1="88.20" y1="741.80" x2="94.80" y2="741.80" stroke="#dcdcdc" stroke-width="1.05"/>
<text x="91.90" y="635.70" font-size="12.4" text-anchor="middle" fill="#000000"  stroke="#000000" stroke-width="0.35" stroke-linejoin="round">abc</text>
<text x="91.70" y="671.10" font-size="12.4" text-anchor="middle" fill="#666666"  stroke="#666666" stroke-width="0.35" stroke-linejoin="round">c</text>
<text x="91.70" y="736.00" font-size="12.4" text-anchor="middle" fill="#e2e2e2"  stroke="#e2e2e2" stroke-width="0.35" stroke-linejoin="round">a</text>
<text x="91.31" y="847.90" font-size="12.4" text-anchor="middle" fill="#000000"  stroke="#000000" stroke-width="0.35" stroke-linejoin="round">T</text>
<rect x="164.00" y="751.30" width="39.20" height="73.20" fill="#bfbfbf"/>
<rect x="164.00" y="676.00" width="39.20" height="75.30" fill="#666666"/>
<rect x="164.00" y="641.90" width="39.20" height="34.10" fill="#000000"/>
<line x1="184.20" y1="642.40" x2="184.20" y2="639.85" stroke="#000000" stroke-width="1.2"/>
<line x1="180.90" y1="640.30" x2="187.50" y2="640.30" stroke="#000000" stroke-width="1.05"/>
<line x1="184.20" y1="676.50" x2="184.20" y2="672.45" stroke="#666666" stroke-width="1.2"/>
<line x1="180.90" y1="672.90" x2="187.50" y2="672.90" stroke="#666666" stroke-width="1.05"/>
<line x1="184.20" y1="751.80" x2="184.20" y2="746.25" stroke="#dcdcdc" stroke-width="1.2"/>
<line x1="180.90" y1="746.70" x2="187.50" y2="746.70" stroke="#dcdcdc" stroke-width="1.05"/>
<text x="183.40" y="635.30" font-size="12.4" text-anchor="middle" fill="#000000"  stroke="#000000" stroke-width="0.35" stroke-linejoin="round">c</text>
<text x="184.40" y="671.10" font-size="12.4" text-anchor="middle" fill="#666666"  stroke="#666666" stroke-width="0.35" stroke-linejoin="round">ab</text>
<text x="184.40" y="736.00" font-size="12.4" text-anchor="middle" fill="#e2e2e2"  stroke="#e2e2e2" stroke-width="0.35" stroke-linejoin="round">a</text>
<text x="184.13" y="847.90" font-size="12.4" text-anchor="middle" fill="#000000"  stroke="#000000" stroke-width="0.35" stroke-linejoin="round">C1</text>
<rect x="257.30" y="747.60" width="38.30" height="76.90" fill="#bfbfbf"/>
<rect x="257.30" y="679.30" width="38.30" height="68.30" fill="#666666"/>
<rect x="257.30" y="644.10" width="38.30" height="35.20" fill="#000000"/>
<line x1="277.05" y1="644.60" x2="277.05" y2="640.85" stroke="#000000" stroke-width="1.2"/>
<line x1="273.75" y1="641.30" x2="280.35" y2="641.30" stroke="#000000" stroke-width="1.05"/>
<line x1="277.05" y1="679.80" x2="277.05" y2="675.85" stroke="#666666" stroke-width="1.2"/>
<line x1="273.75" y1="676.30" x2="280.35" y2="676.30" stroke="#666666" stroke-width="1.05"/>
<line x1="277.05" y1="748.10" x2="277.05" y2="742.55" stroke="#dcdcdc" stroke-width="1.2"/>
<line x1="273.75" y1="743.00" x2="280.35" y2="743.00" stroke="#dcdcdc" stroke-width="1.05"/>
<text x="279.05" y="636.50" font-size="12.4" text-anchor="middle" fill="#000000"  stroke="#000000" stroke-width="0.35" stroke-linejoin="round">bc</text>
<text x="278.25" y="671.10" font-size="12.4" text-anchor="middle" fill="#666666"  stroke="#666666" stroke-width="0.35" stroke-linejoin="round">bc</text>
<text x="278.25" y="736.00" font-size="12.4" text-anchor="middle" fill="#e2e2e2"  stroke="#e2e2e2" stroke-width="0.35" stroke-linejoin="round">a</text>
<text x="276.95" y="847.90" font-size="12.4" text-anchor="middle" fill="#000000"  stroke="#000000" stroke-width="0.35" stroke-linejoin="round">C2</text>
<rect x="350.20" y="753.80" width="38.60" height="70.70" fill="#bfbfbf"/>
<rect x="350.20" y="685.00" width="38.60" height="68.80" fill="#666666"/>
<rect x="350.20" y="644.10" width="38.60" height="40.90" fill="#000000"/>
<line x1="370.10" y1="644.60" x2="370.10" y2="640.85" stroke="#000000" stroke-width="1.2"/>
<line x1="366.80" y1="641.30" x2="373.40" y2="641.30" stroke="#000000" stroke-width="1.05"/>
<line x1="370.10" y1="685.50" x2="370.10" y2="681.55" stroke="#666666" stroke-width="1.2"/>
<line x1="366.80" y1="682.00" x2="373.40" y2="682.00" stroke="#666666" stroke-width="1.05"/>
<line x1="370.10" y1="754.30" x2="370.10" y2="749.05" stroke="#dcdcdc" stroke-width="1.2"/>
<line x1="366.80" y1="749.50" x2="373.40" y2="749.50" stroke="#dcdcdc" stroke-width="1.05"/>
<text x="370.60" y="635.30" font-size="12.4" text-anchor="middle" fill="#000000"  stroke="#000000" stroke-width="0.35" stroke-linejoin="round">ab</text>
<text x="370.90" y="671.10" font-size="12.4" text-anchor="middle" fill="#666666"  stroke="#666666" stroke-width="0.35" stroke-linejoin="round">bc</text>
<text x="370.90" y="736.00" font-size="12.4" text-anchor="middle" fill="#e2e2e2"  stroke="#e2e2e2" stroke-width="0.35" stroke-linejoin="round">ab</text>
<text x="369.77" y="847.90" font-size="12.4" text-anchor="middle" fill="#000000"  stroke="#000000" stroke-width="0.35" stroke-linejoin="round">M1</text>
<rect x="443.20" y="764.70" width="38.20" height="59.80" fill="#bfbfbf"/>
<rect x="443.20" y="687.20" width="38.20" height="77.50" fill="#666666"/>
<rect x="443.20" y="641.90" width="38.20" height="45.30" fill="#000000"/>
<line x1="462.90" y1="642.40" x2="462.90" y2="639.85" stroke="#000000" stroke-width="1.2"/>
<line x1="459.60" y1="640.30" x2="466.20" y2="640.30" stroke="#000000" stroke-width="1.05"/>
<line x1="462.90" y1="687.70" x2="462.90" y2="683.55" stroke="#666666" stroke-width="1.2"/>
<line x1="459.60" y1="684.00" x2="466.20" y2="684.00" stroke="#666666" stroke-width="1.05"/>
<line x1="462.90" y1="765.20" x2="462.90" y2="760.05" stroke="#dcdcdc" stroke-width="1.2"/>
<line x1="459.60" y1="760.50" x2="466.20" y2="760.50" stroke="#dcdcdc" stroke-width="1.05"/>
<text x="463.60" y="635.30" font-size="12.4" text-anchor="middle" fill="#000000"  stroke="#000000" stroke-width="0.35" stroke-linejoin="round">a</text>
<text x="462.90" y="671.10" font-size="12.4" text-anchor="middle" fill="#666666"  stroke="#666666" stroke-width="0.35" stroke-linejoin="round">a</text>
<text x="462.90" y="736.00" font-size="12.4" text-anchor="middle" fill="#e2e2e2"  stroke="#e2e2e2" stroke-width="0.35" stroke-linejoin="round">b</text>
<text x="462.59" y="847.90" font-size="12.4" text-anchor="middle" fill="#000000"  stroke="#000000" stroke-width="0.35" stroke-linejoin="round">M2</text>
<line x1="44.90" y1="625.30" x2="44.90" y2="825.20" stroke="#000000" stroke-width="1.4"/>
<line x1="44.20" y1="824.50" x2="509.70" y2="824.50" stroke="#000000" stroke-width="1.4"/>
<line x1="44.90" y1="824.50" x2="44.90" y2="828.80" stroke="#000000" stroke-width="1.4"/>
<line x1="137.72" y1="824.50" x2="137.72" y2="828.80" stroke="#000000" stroke-width="1.4"/>
<line x1="230.54" y1="824.50" x2="230.54" y2="828.80" stroke="#000000" stroke-width="1.4"/>
<line x1="323.36" y1="824.50" x2="323.36" y2="828.80" stroke="#000000" stroke-width="1.4"/>
<line x1="416.18" y1="824.50" x2="416.18" y2="828.80" stroke="#000000" stroke-width="1.4"/>
<line x1="509.00" y1="824.50" x2="509.00" y2="828.80" stroke="#000000" stroke-width="1.4"/>
<line x1="40.30" y1="824.50" x2="44.90" y2="824.50" stroke="#000000" stroke-width="1.4"/>
<text x="32.70" y="828.90" font-size="12.4" text-anchor="end" fill="#000000"  stroke="#000000" stroke-width="0.35" stroke-linejoin="round">0</text>
<line x1="40.30" y1="644.60" x2="44.90" y2="644.60" stroke="#000000" stroke-width="1.4"/>
<text x="32.70" y="649.00" font-size="12.4" text-anchor="end" fill="#000000"  stroke="#000000" stroke-width="0.35" stroke-linejoin="round">1</text>
<rect x="206.6" y="865.4" width="7.3" height="6.8" fill="#000000"/>
<text transform="translate(216.80,874.00) scale(1.055,1)" font-size="12.4" text-anchor="start" fill="#000000"  stroke="#000000" stroke-width="0.35" stroke-linejoin="round">LMR</text>
<rect x="254.6" y="865.4" width="7.3" height="6.8" fill="#666666"/>
<text transform="translate(263.80,874.00) scale(1.07,1)" font-size="12.4" text-anchor="start" fill="#000000"  stroke="#000000" stroke-width="0.35" stroke-linejoin="round">SMR</text>
<rect x="301.6" y="865.4" width="7.3" height="6.8" fill="#bfbfbf"/>
<text transform="translate(312.20,874.00) scale(1.045,1)" font-size="12.4" text-anchor="start" fill="#000000"  stroke="#000000" stroke-width="0.35" stroke-linejoin="round">RMR</text>
</svg></body></html>
